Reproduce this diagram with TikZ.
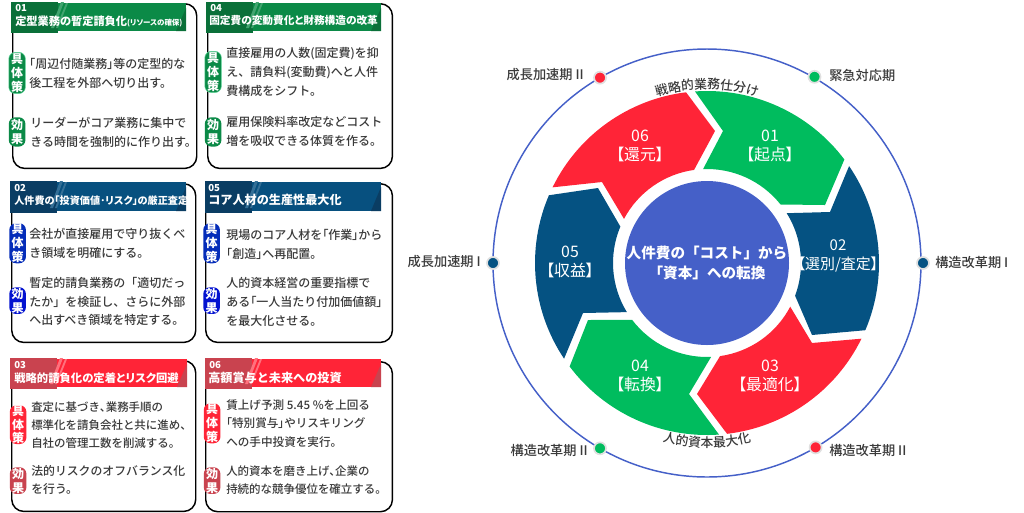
\documentclass[tikz,border=0pt]{standalone}
\usepackage{fontspec}
\usepackage{tikz}
\usetikzlibrary{decorations.text}
\setmainfont{Noto Sans CJK JP}[RawFeature=+palt]
\newfontfamily\fullfont{Noto Sans CJK JP}
\newfontfamily\medfont{Noto Sans CJK JP Medium}[RawFeature=+palt]
\newfontfamily\fullmed{Noto Sans CJK JP Medium}
\newcommand{\hb}[1]{{\medfont #1}}
\definecolor{cardgreen}{HTML}{0B8A47}
\definecolor{cardgreendark}{HTML}{0A7039}
\definecolor{cardnavy}{HTML}{07507F}
\definecolor{cardnavydark}{HTML}{0A3D63}
\definecolor{cardred}{HTML}{FF2437}
\definecolor{cardreddark}{HTML}{C9434F}
\definecolor{wheelgreen}{HTML}{00BC5E}
\definecolor{wheelnavy}{HTML}{055282}
\definecolor{wheelblue}{HTML}{4560C8}
\definecolor{bodygray}{HTML}{3A3A3A}
\newcommand{\cardhead}[7]{% x, top, right end, height, main, dark, stripe
    \fill[#5] (#1+38,#2+1) rectangle (#3,#2+#4-1);
    \fill[#6] (#1,#2) rectangle (#1+47,#2+#4+1);
    \fill[#7] (#1+40,#2+#4-4) -- (#1+50,#2) -- (#1+53,#2) -- (#1+43,#2+#4-4) -- cycle;
    \fill[#7] (#1+45,#2+#4-4) -- (#1+55,#2+1) -- (#1+57,#2+1) -- (#1+47,#2+#4-4) -- cycle;
    \fill[#6] (#3,#2+6) -- (#3,#2+#4-1) -- (#3-10,#2+#4-1) -- cycle;
}
\newcommand{\chevron}[7]{% colour, outer from, outer to, point, inner from, inner to, point
    \fill[#1] (#2:172) arc[start angle=#2,end angle=#3,radius=172] -- (#4)
        -- (#5:94) arc[start angle=#5,end angle=#6,radius=94] -- (#7) -- cycle;
}
\begin{document}
\begin{tikzpicture}[x=.75pt,y=-.75pt]
    \tikzstyle{card}=[draw=black,line width=1.1pt,fill=white,rounded corners=9pt,inner sep=0,anchor=north west]
    \tikzstyle{head no}=[anchor=west,inner sep=0,text=white,font=\bfseries\fontsize{7.2}{8}\selectfont]
    \tikzstyle{head}=[anchor=west,inner sep=0,text=white,font=\bfseries\fontsize{8.4}{10}\selectfont]
    \tikzstyle{body}=[anchor=west,inner sep=0,align=left,text=bodygray,font=\fullmed\fontsize{9}{14.2}\selectfont]
    \tikzstyle{badge}=[anchor=north west,inner sep=0,rounded corners=5pt,minimum width=12.5pt,align=center,text=white,font=\bfseries\fontsize{9}{10.4}\selectfont]
    \tikzstyle{outer}=[inner sep=0,text=bodygray,font=\fullmed\fontsize{9.9}{11}\selectfont]
    \tikzstyle{step label}=[inner sep=0,align=center,text=white,font=\fontsize{11.9}{14}\selectfont]
    \tikzstyle{ring dot}=[circle,inner sep=0,minimum size=9pt,draw=white!88!black,line width=1.3pt]

    \path[use as bounding box] (0,0) rectangle (1024,512);

    % cards
    \node (card1)[card,minimum width=138pt,minimum height=123.5pt] at (12,3) {};
    \node (card4)[card,minimum width=138.5pt,minimum height=123.5pt] at (207,3) {};
    \node (card2)[card,minimum width=138pt,minimum height=119pt] at (11,183) {};
    \node (card5)[card,minimum width=140pt,minimum height=119pt] at (205,183) {};
    \node (card3)[card,minimum width=138pt,minimum height=113pt] at (11,360) {};
    \node (card6)[card,minimum width=140pt,minimum height=112.5pt] at (205,361) {};

    \cardhead{11}{2}{186}{30}{cardgreen}{cardgreendark}{white!22!cardgreen}
    \cardhead{206}{2}{381}{30}{cardgreen}{cardgreendark}{white!22!cardgreen}
    \cardhead{10}{181}{186}{31}{cardnavy}{cardnavydark}{white!18!cardnavy}
    \cardhead{205}{181}{381}{31}{cardnavy}{cardnavydark}{white!18!cardnavy}
    \cardhead{10}{358}{187}{30}{cardred}{cardreddark}{white!35!cardred}
    \cardhead{205}{358}{381}{30}{cardred}{cardreddark}{white!35!cardred}

    % card headings
    \node (no1)[head no] at (15,8) {01};
    \node (no4)[head no] at (210,8) {04};
    \node (no2)[head no] at (14,188) {02};
    \node (no5)[head no] at (208,188) {05};
    \node (no3)[head no] at (14,365) {03};
    \node (no6)[head no] at (209,365) {06};
    \node (head1)[head] at (15,21) {定型業務の暫定請負化{\fontsize{5.6}{7}\selectfont (リソースの確保)}};
    \node (head4)[head,font=\bfseries\fontsize{8}{10}\selectfont] at (209,20) {固定費の変動費化と財務構造の改革};
    \node (head2)[head,font=\bfseries\fontsize{7.6}{10}\selectfont] at (14,201) {人件費の「投資価値･リスク」の厳正査定};
    \node (head5)[head,font=\fullfont\bfseries\fontsize{9.1}{10}\selectfont] at (208,200) {コア人材の生産性最大化};
    \node (head3)[head,font=\bfseries\fontsize{8.5}{10}\selectfont] at (14,378) {戦略的請負化の定着とリスク回避};
    \node (head6)[head,font=\fullfont\bfseries\fontsize{9.1}{10}\selectfont] at (208,378) {高額賞与と未来への投資};

    % badges
    \node (plan1)[badge,fill=cardgreen,draw=wheelgreen!60,minimum height=31pt] at (8.5,52) {具\\体\\策};
    \node (gain1)[badge,fill=cardgreen,minimum height=22pt] at (8.5,117) {効\\果};
    \node (plan4)[badge,fill=cardgreen,draw=wheelgreen!60,minimum height=31pt] at (204.5,51) {具\\体\\策};
    \node (gain4)[badge,fill=cardgreen,minimum height=22pt] at (204.5,117) {効\\果};
    \node (plan2)[badge,fill=blue!45!cardnavy,minimum height=30pt] at (9,223) {具\\体\\策};
    \node (gain2)[badge,fill=blue!70!cardnavydark,minimum height=20pt] at (9,287) {効\\果};
    \node (plan5)[badge,fill=blue!45!cardnavy,minimum height=30pt] at (203,223) {具\\体\\策};
    \node (gain5)[badge,fill=blue!70!cardnavydark,minimum height=20pt] at (203,287) {効\\果};
    \node (plan3)[badge,fill=cardred,minimum height=29pt] at (9.5,405) {具\\体\\策};
    \node (gain3)[badge,fill=cardreddark,minimum height=20pt] at (9.5,467) {効\\果};
    \node (plan6)[badge,fill=cardred,minimum height=30pt] at (203.5,403) {具\\体\\策};
    \node (gain6)[badge,fill=cardreddark,minimum height=20pt] at (203.5,467) {効\\果};

    % card texts
    \node (text1a)[body] at (29,73) {\hb{「}周辺付随業務\hb{」}等の定型的な\\後工程を外部へ切り出す。};
    \node (text1b)[body] at (30,132.5) {リーダーがコア業務に集中で\\きる時間を強制的に作り出す。};
    \node (text4a)[body] at (226,72) {直接雇用の人数(固定費)を抑\\え、請負料(変動費)へと人件\\費構成をシフト。};
    \node (text4b)[body] at (226,131.5) {雇用保険料率改定などコスト\\増を吸収できる体質を作る。};
    \node (text2a)[body] at (29,243) {会社が直接雇用で守り抜くべ\\き領域を明確にする。};
    \node (text2b)[body] at (29,301.5) {暫定的請負業務の「適切だっ\\たか」を検証し、さらに外部\\へ出すべき領域を特定する。};
    \node (text5a)[body] at (226,244) {現場のコア人材を\hb{「}作業\hb{」}から\\\hb{「}創造\hb{」}へ再配置。};
    \node (text5b)[body] at (226,301.5) {人的資本経営の重要指標で\\ある\hb{「}一人当たり付加価値額\hb{」}\\を最大化させる。};
    \node (text3a)[body,font=\fullmed\fontsize{8.6}{13.6}\selectfont] at (31,425) {査定に基づき\hb{、}業務手順の\\標準化を請負会社と共に進め、\\自社の管理工数を削減する。};
    \node (text3b)[body,font=\fullmed\fontsize{8.9}{13.6}\selectfont] at (31,480) {法的リスクのオフバランス化\\を行う。};
    \node (text6a)[body,font=\fullmed\fontsize{8.7}{13.6}\selectfont] at (226,423.5) {賃上げ予測 5.45 \%を上回る\\\hb{「}特別賞与\hb{」}やリスキリング\\への手中投資を実行。};
    \node (text6b)[body,font=\fullmed\fontsize{8.6}{13.6}\selectfont] at (226,480) {人的資本を磨き上げ\hb{、}企業の\\持続的な競争優位を確立する。};

    % wheel
    \begin{scope}[shift={(707,263)},y=.75pt]
        \draw[wheelblue,line width=1.1pt] (0,0) circle[radius=214];
        \chevron{wheelgreen}{94}{37}{118,58}{38.5}{92.4}{16,132}
        \chevron{wheelnavy}{34.3}{-23}{105,-72}{-20.4}{32}{123,51}
        \chevron{cardred}{-26.1}{-83.3}{-10,-131}{-82}{-27.7}{105,-80}
        \chevron{wheelgreen}{-86}{-143}{-119,-57}{-142.8}{-87.5}{-18,-131}
        \chevron{wheelnavy}{-146.2}{-203.2}{-109,75}{-202.8}{-148.5}{-124,-50}
        \chevron{cardred}{153.9}{97}{8,132}{97.9}{152}{-105,81}
        \node (core)[circle,fill=wheelblue,minimum size=123pt,inner sep=0,align=center,text=white,font=\fullfont\bfseries\fontsize{10.95}{15.6}\selectfont] at (0,0) {人件費の「コスト」から\\「資本」への転換};

        \node (step1)[step label] at (63,117) {01\\【起点】};
        \node (step2)[step label,font=\fontsize{11.2}{14}\selectfont] at (131,7) {02\\【選別/査定】};
        \node (step3)[step label] at (63,-113) {03\\【最適化】};
        \node (step4)[step label] at (-67,-113) {04\\【転換】};
        \node (step5)[step label] at (-137,1) {05\\【収益】};
        \node (step6)[step label] at (-67,117) {06\\【還元】};

        \path[decorate,decoration={text along path,text align=center,text={|\medfont\fontsize{9.6}{11}\selectfont\color{bodygray}|戦略的業務仕分け}}] (115:174) arc[start angle=115,end angle=65,radius=174];
        \path[decorate,decoration={text along path,text align=center,text={|\medfont\fontsize{9.6}{11}\selectfont\color{bodygray}|人的資本最大化}}] (-116:184) arc[start angle=-116,end angle=-64,radius=184];

        \node (dot1)[ring dot,fill=wheelgreen] at (60:215) {};
        \node (dot2)[ring dot,fill=wheelnavy] at (0:216) {};
        \node (dot3)[ring dot,fill=cardred] at (-59.5:214) {};
        \node (dot4)[ring dot,fill=wheelgreen] at (-120:214) {};
        \node (dot5)[ring dot,fill=wheelnavy] at (180:214) {};
        \node (dot6)[ring dot,fill=cardred] at (120:214) {};
    \end{scope}

    % phase labels
    \node (phase1)[outer,anchor=west] at (829,75) {緊急対応期};
    \node (phase2)[outer,anchor=west] at (935,262) {構造改革期 I};
    \node (phase3)[outer,anchor=west] at (829,450) {構造改革期 II};
    \node (phase4)[outer,anchor=east] at (588,450) {構造改革期 II};
    \node (phase5)[outer,anchor=east] at (481,262) {成長加速期 I};
    \node (phase6)[outer,anchor=east] at (584,75) {成長加速期 II};
\end{tikzpicture}
\end{document}
